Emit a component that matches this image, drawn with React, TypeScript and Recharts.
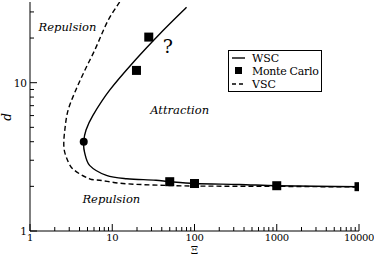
import {
  ComposedChart,
  Line,
  Scatter,
  XAxis,
  YAxis,
  ReferenceDot,
} from "recharts";

// WSC curve, read along the line from the top end down to the right
const wscXi = [80, 38, 19.7, 9.3, 5.8, 4.8, 4.5, 4.6, 5.3, 8.5, 15, 34, 50, 100, 350, 1000, 10000];
const wscD = [32.3, 21.4, 14.5, 8.9, 6.0, 4.8, 4.0, 3.4, 2.77, 2.37, 2.25, 2.2, 2.15, 2.09, 2.06, 2.02, 1.99];

// VSC curve
const vscXi = [12.3, 8.9, 6.1, 4.6, 3.6, 2.9, 2.65, 2.58, 2.76, 3.3, 5.3, 7, 13.5, 45, 100, 1000, 10000];
const vscD = [35, 26.3, 16.5, 12, 8.9, 6.5, 4.8, 3.7, 3.15, 2.63, 2.25, 2.2, 2.09, 2.03, 2.01, 2.0, 1.98];

// Monte Carlo points
const mcXi = [19.7, 27.8, 50, 100, 1000, 10000];
const mcD = [12.1, 20.3, 2.15, 2.09, 2.02, 1.99];

// critical point on the WSC curve
const critXi = [4.5];
const critD = [4.0];

const xMajor = [1, 10, 100, 1000, 10000];
const yMajor = [1, 10];
const xTicks = [1, 2, 3, 4, 5, 6, 7, 8, 9, 10, 20, 30, 40, 50, 60, 70, 80, 90, 100, 200, 300, 400, 500, 600, 700, 800, 900, 1000, 2000, 3000, 4000, 5000, 6000, 7000, 8000, 9000, 10000];
const yTicks = [1, 2, 3, 4, 5, 6, 7, 8, 9, 10, 20, 30];

const notes = [
  { x: 2.86, y: 23.6, text: "Repulsion", size: 11.5, italic: true },
  { x: 66, y: 6.6, text: "Attraction", size: 11.5, italic: true },
  { x: 9.75, y: 1.64, text: "Repulsion", size: 11.5, italic: true },
  { x: 47.3, y: 17.6, text: "?", size: 19, italic: false },
];

const zip = (xs: number[], ys: number[]) => xs.map((x, i) => ({ x, y: ys[i] }));

const FONT = "DejaVu Serif";
const txt = (size: number, italic = false) => ({
  fontFamily: FONT,
  fontSize: size,
  fontStyle: italic ? "italic" : "normal",
});

// smooth curve through the points, tangents scaled by chord length (no big overshoot)
function chordCurve(context: any) {
  let pts: number[][] = [];
  return {
    areaStart() {},
    areaEnd() {},
    lineStart() {
      pts = [];
    },
    point(x: number, y: number) {
      pts.push([+x, +y]);
    },
    lineEnd() {
      if (!pts.length) return;
      const d = (a: number[], b: number[]) => Math.hypot(b[0] - a[0], b[1] - a[1]) || 1e-6;
      context.moveTo(pts[0][0], pts[0][1]);
      for (let i = 0; i < pts.length - 1; i++) {
        const p0 = pts[i - 1] || pts[i];
        const p1 = pts[i];
        const p2 = pts[i + 1];
        const p3 = pts[i + 2] || p2;
        const d12 = d(p1, p2);
        const k1 = d12 / (3 * (d(p0, p1) + d12));
        const k2 = d12 / (3 * (d12 + d(p2, p3)));
        context.bezierCurveTo(
          p1[0] + (p2[0] - p0[0]) * k1,
          p1[1] + (p2[1] - p0[1]) * k1,
          p2[0] - (p3[0] - p1[0]) * k2,
          p2[1] - (p3[1] - p1[1]) * k2,
          p2[0],
          p2[1]
        );
      }
    },
  };
}

function XTick(props: any) {
  const { x, y, payload, side } = props;
  const major = xMajor.includes(payload.value);
  const len = major ? 7 : 4;
  const dir = side === "bottom" ? -1 : 1;
  return (
    <g>
      <line x1={x} x2={x} y1={y} y2={y + dir * len} stroke="#000" />
      {side === "bottom" && major && (
        <text x={x} y={y + 10} textAnchor="middle" fill="#000" letterSpacing={-0.4} style={txt(10)}>
          {payload.value}
        </text>
      )}
    </g>
  );
}

function YTick(props: any) {
  const { x, y, payload, side } = props;
  const major = yMajor.includes(payload.value);
  const len = major ? 7 : 4;
  const dir = side === "left" ? 1 : -1;
  return (
    <g>
      <line x1={x} x2={x + dir * len} y1={y} y2={y} stroke="#000" />
      {side === "left" && major && (
        <text x={x - 3} y={y + 4} textAnchor="end" fill="#000" style={txt(10.5)}>
          {payload.value}
        </text>
      )}
    </g>
  );
}

const Square = (props: any) => {
  const { cx, cy } = props;
  return <rect x={cx - 4.5} y={cy - 4.5} width={9} height={9} fill="#000" />;
};

const Dot = (props: any) => <circle cx={props.cx} cy={props.cy} r={4} fill="#000" />;

export default function App() {
  return (
    <div style={{ position: "fixed", left: 0, top: 0, width: 374, height: 256, background: "#fff" }}>
      <ComposedChart width={374} height={256} margin={{ top: 2, right: 15, bottom: 0, left: 0 }}>
        <XAxis
          xAxisId="b"
          dataKey="x"
          type="number"
          scale="log"
          domain={[1, 10000]}
          ticks={xTicks}
          interval={0}
          height={25}
          tickSize={0}
          tickMargin={0}
          tickLine={false}
          stroke="#000"
          allowDataOverflow
          tick={<XTick side="bottom" />}
        />
        <XAxis
          xAxisId="t"
          orientation="top"
          dataKey="x"
          type="number"
          scale="log"
          domain={[1, 10000]}
          ticks={xTicks}
          interval={0}
          height={0}
          tickSize={0}
          tickMargin={0}
          tickLine={false}
          stroke="#000"
          allowDataOverflow
          tick={<XTick side="top" />}
        />
        <YAxis
          yAxisId="l"
          type="number"
          scale="log"
          domain={[1, 35]}
          ticks={yTicks}
          interval={0}
          width={30}
          tickSize={0}
          tickMargin={0}
          tickLine={false}
          stroke="#000"
          allowDataOverflow
          tick={<YTick side="left" />}
        />
        <YAxis
          yAxisId="r"
          orientation="right"
          type="number"
          scale="log"
          domain={[1, 35]}
          ticks={yTicks}
          interval={0}
          width={0}
          tickSize={0}
          tickMargin={0}
          tickLine={false}
          stroke="#000"
          allowDataOverflow
          tick={<YTick side="right" />}
        />
        <Line
          xAxisId="b"
          yAxisId="l"
          data={zip(vscXi, vscD)}
          dataKey="y"
          type={chordCurve as any}
          stroke="#000"
          strokeWidth={1.4}
          strokeDasharray="5 3"
          dot={false}
          isAnimationActive={false}
        />
        <Line
          xAxisId="b"
          yAxisId="l"
          data={zip(wscXi, wscD)}
          dataKey="y"
          type={chordCurve as any}
          stroke="#000"
          strokeWidth={1.4}
          dot={false}
          isAnimationActive={false}
        />
        <Scatter
          xAxisId="b"
          yAxisId="l"
          data={zip(mcXi, mcD)}
          dataKey="y"
          shape={<Square />}
          isAnimationActive={false}
        />
        <Scatter
          xAxisId="b"
          yAxisId="l"
          data={zip(critXi, critD)}
          dataKey="y"
          shape={<Dot />}
          isAnimationActive={false}
        />
        {notes.map((n, i) => (
          <ReferenceDot
            key={i}
            xAxisId="b"
            yAxisId="l"
            x={n.x}
            y={n.y}
            r={0}
            fill="none"
            stroke="none"
            label={{
              value: n.text,
              position: "center",
              fill: "#000",
              style: txt(n.size, n.italic),
            }}
          />
        ))}
        {/* legend box */}
        <g fill="#000">
          <rect x={228.5} y={50.5} width={93} height={41} fill="#fff" stroke="#000" />
          <line x1={232} x2={245} y1={58} y2={58} stroke="#000" strokeWidth={1.4} />
          <text x={252} y={62} style={txt(11)}>WSC</text>
          <rect x={235} y={67} width={7} height={7} fill="#000" />
          <text x={252} y={75} letterSpacing={-0.3} style={txt(11)}>Monte Carlo</text>
          <line x1={232} x2={246} y1={84} y2={84} stroke="#000" strokeWidth={1.4} strokeDasharray="4 3" />
          <text x={252} y={88} style={txt(11)}>VSC</text>
        </g>
        <text x={194.5} y={254} textAnchor="middle" fill="#000" style={txt(10.5)}>
          Ξ
        </text>
        <text x={11} y={117} textAnchor="middle" fill="#000" style={txt(12, true)} transform="rotate(-90 11 117)">
          {"d\u0304"}
        </text>
      </ComposedChart>
    </div>
  );
}
